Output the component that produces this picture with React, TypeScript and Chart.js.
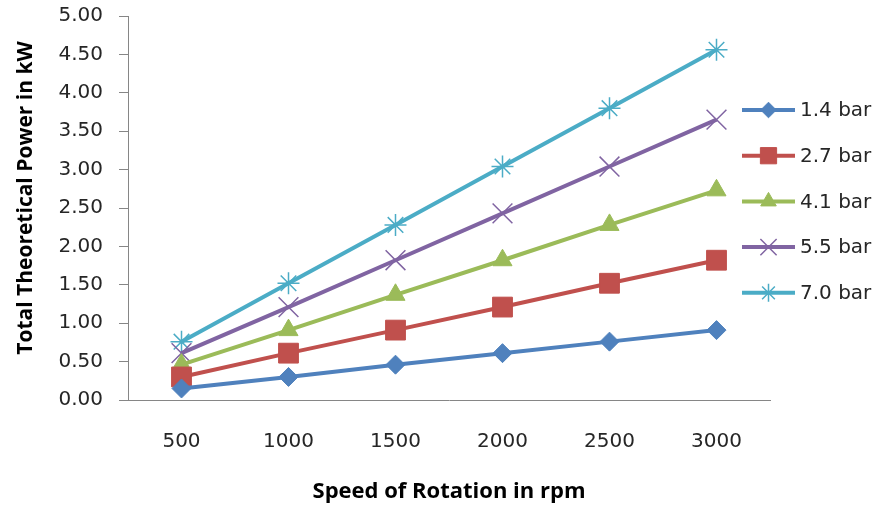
import React, { useEffect, useRef } from "react";
import { Chart, registerables } from "chart.js";
import { drawPoint } from "chart.js/helpers";

Chart.register(...registerables);

const categories = ["500", "1000", "1500", "2000", "2500", "3000"];
const seriesNames = ["1.4 bar", "2.7 bar", "4.1 bar", "5.5 bar", "7.0 bar"];
const bar14 = [0.15, 0.3, 0.46, 0.61, 0.76, 0.91];
const bar27 = [0.3, 0.61, 0.91, 1.21, 1.52, 1.82];
const bar41 = [0.46, 0.91, 1.37, 1.82, 2.28, 2.73];
const bar55 = [0.61, 1.21, 1.82, 2.43, 3.04, 3.65];
const bar70 = [0.76, 1.52, 2.28, 3.04, 3.8, 4.56];
const colors = ["#4F81BD", "#C0504D", "#9BBB59", "#8064A2", "#4BACC6"];
const pointStyles = ["rectRot", "rect", "triangle", "crossRot", "star"];
const pointRadii = [9.5, 14, 11, 14, 11];
const pointBorders = [1, 1, 1, 1.5, 1.5];
const xTitle = "Speed of Rotation in rpm";
const yTitle = "Total Theoretical Power in kW";

const TICK_FONT = "'DejaVu Sans', sans-serif";
const TITLE_FONT = "'Open Sans', 'Liberation Sans', sans-serif";

const legendPlugin = {
  id: "excelLegend",
  afterDraw(chart: any) {
    const ctx = chart.ctx;
    ctx.save();
    chart.data.datasets.forEach((ds: any, i: number) => {
      const y = 110 + i * 45.7;
      ctx.strokeStyle = ds.borderColor;
      ctx.lineWidth = 4;
      ctx.lineCap = "butt";
      ctx.beginPath();
      ctx.moveTo(742, y);
      ctx.lineTo(795, y);
      ctx.stroke();
      ctx.fillStyle = ds.borderColor;
      ctx.strokeStyle = ds.borderColor;
      ctx.lineWidth = ds.pointBorderWidth;
      drawPoint(ctx, {
        pointStyle: ds.pointStyle,
        radius: ds.pointRadius * 0.82,
        rotation: 0,
        borderWidth: ds.pointBorderWidth,
      } as any, 768.5, y);
      ctx.fillStyle = "#262626";
      ctx.font = `20px ${TICK_FONT}`;
      ctx.textAlign = "left";
      ctx.textBaseline = "middle";
      ctx.fillText(ds.label, 800, y + 1);
    });
    // y-axis title (rotated)
    ctx.translate(26, 198);
    ctx.rotate(-Math.PI / 2);
    ctx.fillStyle = "#000000";
    ctx.font = `bold 21px ${TITLE_FONT}`;
    ctx.textAlign = "center";
    ctx.textBaseline = "middle";
    ctx.fillText(yTitle, 0, 0);
    ctx.restore();
  },
};

export default function App() {
  const ref = useRef<HTMLCanvasElement | null>(null);
  useEffect(() => {
    if (!ref.current) return;
    const values = [bar14, bar27, bar41, bar55, bar70];
    const chart = new Chart(ref.current, {
      type: "line",
      data: {
        labels: categories,
        datasets: values.map((v, i) => ({
          label: seriesNames[i],
          data: v,
          borderColor: colors[i],
          backgroundColor: colors[i],
          borderWidth: 4,
          pointStyle: pointStyles[i] as any,
          pointRadius: pointRadii[i],
          pointBackgroundColor: colors[i],
          pointBorderColor: colors[i],
          pointBorderWidth: pointBorders[i],
          tension: 0,
          fill: false,
          clip: false as any,
        })),
      },
      options: {
        responsive: false,
        animation: false,
        layout: { autoPadding: false, padding: { top: 16, right: 109, left: 0, bottom: 0 } },
        plugins: {
          legend: { display: false },
          tooltip: { enabled: false },
        },
        scales: {
          x: {
            offset: true,
            grid: { display: false, drawTicks: false },
            border: { display: true, color: "#868686", width: 1 },
            ticks: {
              color: "#262626",
              font: { family: TICK_FONT, size: 20 },
              padding: 30,
              maxRotation: 0,
            },
            title: {
              display: true,
              text: xTitle,
              color: "#000000",
              font: { family: TITLE_FONT, size: 22, weight: "bold" },
              padding: { top: 0, bottom: 1 },
            },
            afterFit(scale: any) {
              scale.height = 106;
              scale.paddingLeft = 0;
              scale.paddingRight = 0;
            },
          },
          y: {
            min: 0,
            max: 5,
            grid: {
              display: true,
              drawOnChartArea: false,
              drawTicks: true,
              tickLength: 9,
              color: "#868686",
            },
            border: { display: true, color: "#868686", width: 1 },
            ticks: {
              stepSize: 0.5,
              color: "#262626",
              font: { family: TICK_FONT, size: 20 },
              padding: 16,
              callback: (v: any) => Number(v).toFixed(2),
            },
            title: { display: false },
            afterFit(scale: any) {
              scale.width = 128;
              scale.paddingTop = 0;
              scale.paddingBottom = 0;
            },
          },
        },
      },
      plugins: [legendPlugin],
    });
    return () => chart.destroy();
  }, []);
  return (
    <div style={{ position: "fixed", left: 0, top: 0, width: 879, height: 506, background: "#fff" }}>
      <canvas ref={ref} width={879} height={506} style={{ width: 879, height: 506 }} />
    </div>
  );
}
